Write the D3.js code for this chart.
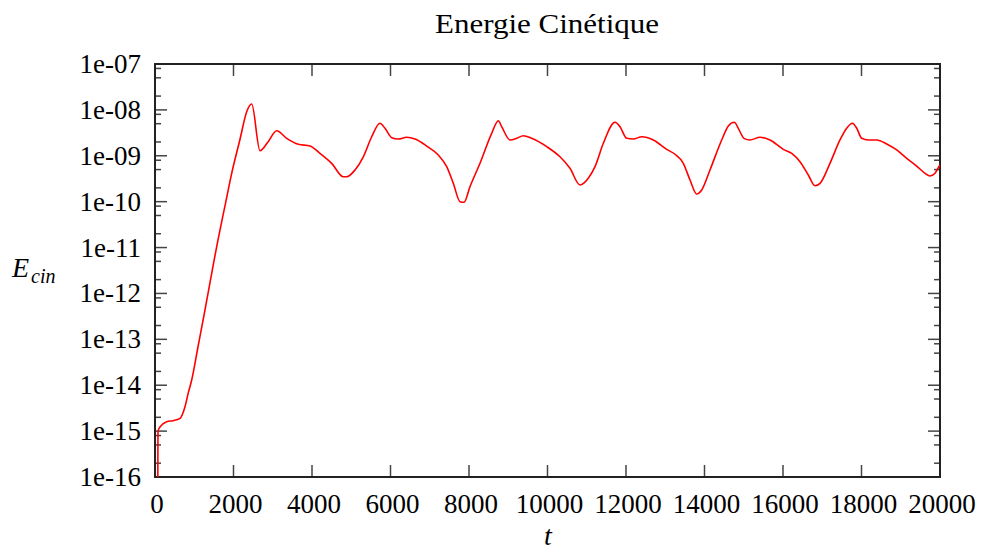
<!DOCTYPE html>
<html><head><meta charset="utf-8">
<script src="https://cdn.jsdelivr.net/npm/d3@7"></script>
<style>
html,body{margin:0;padding:0;background:#fff;}
svg{display:block;}
text{font-family:"Liberation Serif","Times New Roman",serif;fill:#000;}
</style></head>
<body>
<svg id="chart" width="982" height="552"></svg>
<script>
const title = "Energie Cinétique";
const xTicks = [0,2000,4000,6000,8000,10000,12000,14000,16000,18000,20000];
const yTicks = [1e-16,1e-15,1e-14,1e-13,1e-12,1e-11,1e-10,1e-9,1e-8,1e-7];
const yTickLabels = ["1e-16","1e-15","1e-14","1e-13","1e-12","1e-11","1e-10","1e-09","1e-08","1e-07"];
const minorFactors = [2,5,8];

const tValues = [70,76,127,298,459,637,764,848,935,1096,1274,1613,1783,1954,2166,2336,2464,2675,2879,3101,3355,3651,3949,4204,4502,4797,4884,5096,5307,5521,5732,5860,6031,6199,6413,6624,6922,7218,7432,7600,7771,7873,8025,8280,8578,8747,8833,9045,9215,9383,9597,9980,10318,10573,10828,11039,11210,11422,11720,11847,12018,12186,12400,12696,13037,13248,13460,13631,13801,13929,14140,14438,14607,14759,14861,15006,15159,15414,15669,16008,16222,16433,16645,16815,16943,17197,17452,17623,17766,17878,18005,18173,18387,18642,18897,19152,19406,19618,19745,19873,19982,20000];
const eValues = [1e-18,1.0e-15,1.23e-15,1.6e-15,1.69e-15,1.9e-15,3.4e-15,6.8e-15,1.3e-14,6.9e-14,4.4e-13,1.59e-11,8.1e-11,4.15e-10,2.29e-9,9.1e-9,1.34e-8,1.29e-9,2.0e-9,3.5e-9,2.4e-9,1.78e-9,1.63e-9,1.13e-9,6.85e-10,3.5e-10,3.5e-10,4.9e-10,9.5e-10,2.6e-9,5.1e-9,3.97e-9,2.48e-9,2.32e-9,2.53e-9,2.32e-9,1.63e-9,1.04e-9,5.78e-10,2.51e-10,9.98e-11,9.7e-11,2.12e-10,6.85e-10,3.09e-9,5.8e-9,4.3e-9,2.21e-9,2.4e-9,2.74e-9,2.4e-9,1.58e-9,9.5e-10,5.33e-10,2.31e-10,3.23e-10,5.78e-10,1.87e-9,5.37e-9,4.3e-9,2.4e-9,2.32e-9,2.6e-9,2.21e-9,1.38e-9,1.08e-9,6.85e-10,2.96e-10,1.47e-10,1.8e-10,4.9e-10,2.21e-9,4.46e-9,5.37e-9,3.97e-9,2.4e-9,2.21e-9,2.53e-9,2.21e-9,1.38e-9,1.13e-9,7.43e-10,3.81e-10,2.23e-10,2.51e-10,6.85e-10,2.21e-9,3.97e-9,5.1e-9,3.97e-9,2.4e-9,2.21e-9,2.21e-9,1.81e-9,1.34e-9,8.8e-10,5.98e-10,4.15e-10,3.62e-10,4.15e-10,5.98e-10,6.3e-10];

const L=155, R=940, T=64, B=477;
const svg = d3.select("#chart");
const x = d3.scaleLinear().domain([0,20000]).range([L,R]);
const y = d3.scaleLog().domain([1e-16,1e-7]).range([B,T]);

const minor = [];
yTicks.slice(0,-1).forEach(d=>minorFactors.forEach(f=>minor.push(d*f)));
const tickColor = "#444";
const g = svg.append("g");
minor.forEach(v=>{
  g.append("line").attr("x1",L).attr("x2",L+6).attr("y1",y(v)).attr("y2",y(v)).attr("stroke",tickColor).attr("stroke-width",1.5);
  g.append("line").attr("x1",R).attr("x2",R-6).attr("y1",y(v)).attr("y2",y(v)).attr("stroke",tickColor).attr("stroke-width",1.5);
});
yTicks.forEach((v,i)=>{
  g.append("line").attr("x1",L).attr("x2",L+12).attr("y1",y(v)).attr("y2",y(v)).attr("stroke",tickColor).attr("stroke-width",1.5);
  g.append("line").attr("x1",R).attr("x2",R-12).attr("y1",y(v)).attr("y2",y(v)).attr("stroke",tickColor).attr("stroke-width",1.5);
  svg.append("text").attr("x",141).attr("y",y(v)+9).attr("text-anchor","end").attr("font-size",27).text(yTickLabels[i]);
});
xTicks.forEach(v=>{
  g.append("line").attr("x1",x(v)).attr("x2",x(v)).attr("y1",B).attr("y2",B-12).attr("stroke",tickColor).attr("stroke-width",1.5);
  g.append("line").attr("x1",x(v)).attr("x2",x(v)).attr("y1",T).attr("y2",T+12).attr("stroke",tickColor).attr("stroke-width",1.5);
  svg.append("text").attr("x",x(v)+2).attr("y",513).attr("text-anchor","middle").attr("font-size",27).text(v);
});

svg.append("rect").attr("x",L).attr("y",T).attr("width",R-L).attr("height",B-T)
  .attr("fill","none").attr("stroke","#222").attr("stroke-width",2);

svg.append("clipPath").attr("id","clip").append("rect").attr("x",L).attr("y",T).attr("width",R-L).attr("height",B-T);
const data = tValues.map((t,i)=>({t:t,e:eValues[i]}));
const yc = v => v < 1e-16 ? y(1e-16)+20 : y(v);
svg.append("path").datum(data).attr("clip-path","url(#clip)")
  .attr("fill","none").attr("stroke","#ff0000").attr("stroke-width",1.6).attr("stroke-linejoin","round")
  .attr("d", d3.line().curve(d3.curveMonotoneX).x(d=>x(d.t)).y(d=>yc(d.e)));

svg.append("text").attr("x",547).attr("y",33).attr("text-anchor","middle").attr("font-size",27)
  .attr("textLength",224).attr("lengthAdjust","spacingAndGlyphs").text(title);
const yl = svg.append("text").attr("x",12).attr("y",277).attr("font-size",28).attr("font-style","italic");
yl.append("tspan").text("E");
yl.append("tspan").attr("font-size",20).attr("dy",6).attr("dx",2).text("cin");
svg.append("text").attr("x",548).attr("y",545).attr("text-anchor","middle").attr("font-size",28).attr("font-style","italic").text("t");
</script>
</body></html>
